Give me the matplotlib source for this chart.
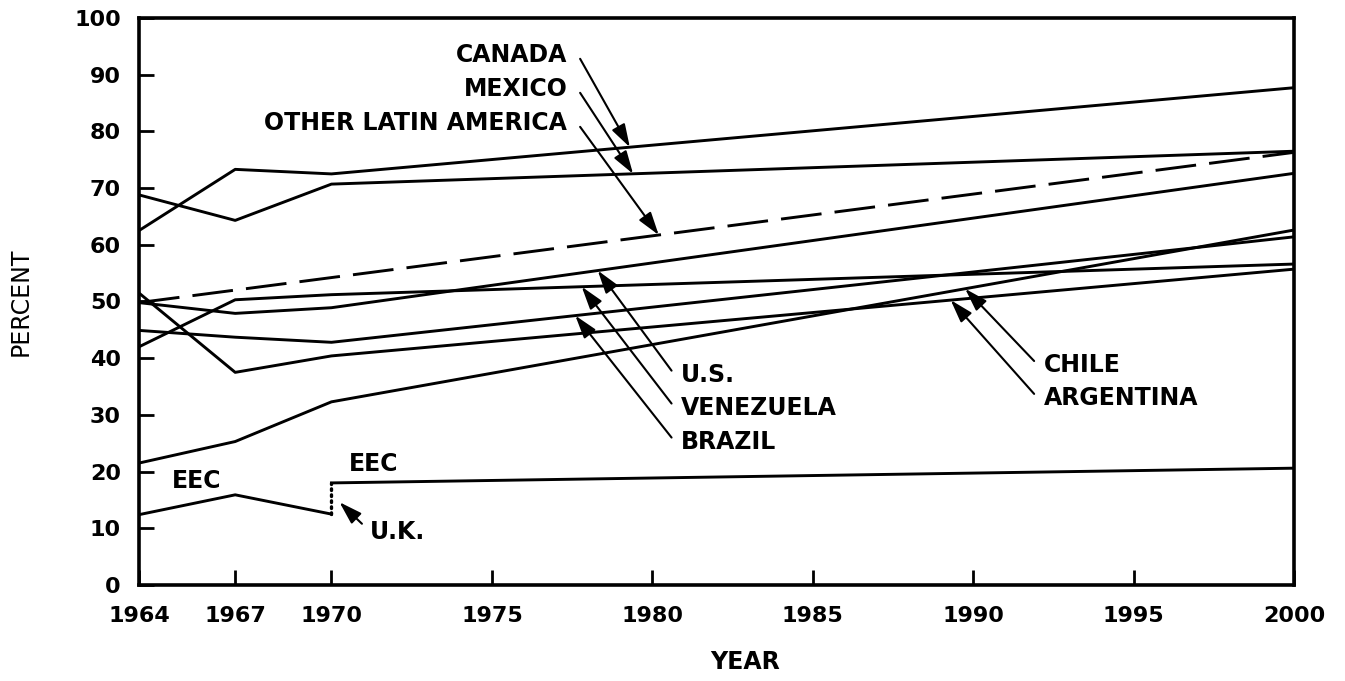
import numpy as np
import matplotlib.pyplot as plt

plt.rcParams['font.family'] = ['DejaVu Sans']

# Données (pourcentages)
years = [1964, 1967, 1970, 2000]
canada = [62.5, 73.3, 72.5, 87.7]
mexico = [68.8, 64.3, 70.7, 76.5]
us = [49.8, 47.9, 48.9, 72.6]
venezuela = [42.0, 50.3, 51.2, 56.6]
brazil = [44.9, 43.7, 42.8, 61.4]
argentina = [51.5, 37.5, 40.4, 55.7]
chile = [21.5, 25.3, 32.3, 62.6]

other_la_years = [1964, 2000]
other_la = [49.8, 76.3]

eec_years = [1964, 1967, 1970]
eec = [12.4, 15.9, 12.5]
eec_uk_years = [1970, 2000]
eec_uk = [18.0, 20.6]

xticks = [1964, 1967, 1970, 1975, 1980, 1985, 1990, 1995, 2000]
yticks = list(range(0, 101, 10))

LW = 2.1
fig = plt.figure(figsize=(13.45, 6.81), dpi=100)
ax = fig.add_axes([0.1033, 0.141, 0.8588, 0.8326])

for serie in [canada, mexico, us, venezuela, brazil, argentina, chile]:
    ax.plot(years, serie, color='black', lw=LW)
ax.plot(other_la_years, other_la, color='black', lw=LW, dashes=(14, 4.5))
ax.plot(eec_years, eec, color='black', lw=LW)
ax.plot(eec_uk_years, eec_uk, color='black', lw=LW)
# entrée du Royaume-Uni (pointillés)
ax.plot([eec_years[-1], eec_uk_years[0]], [eec[-1], eec_uk[0]],
        color='black', lw=2.4, linestyle=(0, (0.5, 1.3)), dash_capstyle='round')

ax.set_xlim(1964, 2000)
ax.set_ylim(0, 100)
ax.set_xticks(xticks)
ax.set_yticks(yticks)
ax.tick_params(direction='in', length=11, width=2, labelsize=16)
ax.tick_params(axis='x', pad=15)
ax.tick_params(axis='y', pad=13)
for lab in ax.get_xticklabels() + ax.get_yticklabels():
    lab.set_fontweight('bold')
for sp in ax.spines.values():
    sp.set_linewidth(2.6)
ax.set_xlabel('YEAR', fontsize=17, fontweight='bold')
ax.set_ylabel('PERCENT', fontsize=17)
ax.xaxis.set_label_coords(0.525, -0.115)
ax.yaxis.set_label_coords(-0.092, 0.5)

ARROW = dict(arrowstyle='-|>,head_length=0.7,head_width=0.22', color='black',
             lw=1.5, mutation_scale=20, shrinkA=0, shrinkB=0)


def fleche(tip_year, serie_years, serie, tail):
    tip = (tip_year, np.interp(tip_year, serie_years, serie))
    ax.annotate('', xy=tip, xytext=tail, arrowprops=ARROW)


FS = 17
FW = 'bold'
# étiquettes du haut
ax.text(1977.35, 93.4, 'CANADA', ha='right', va='center', fontsize=FS, fontweight=FW)
ax.text(1977.35, 87.4, 'MEXICO', ha='right', va='center', fontsize=FS, fontweight=FW)
ax.text(1977.35, 81.4, 'OTHER LATIN AMERICA', ha='right', va='center', fontsize=FS, fontweight=FW)
fleche(1979.3, years, canada, (1977.75, 92.8))
fleche(1979.4, years, mexico, (1977.75, 86.8))
fleche(1980.2, other_la_years, other_la, (1977.75, 80.8))

# étiquettes du milieu
ax.text(1980.9, 37.0, 'U.S.', ha='left', va='center', fontsize=FS, fontweight=FW)
ax.text(1980.9, 31.2, 'VENEZUELA', ha='left', va='center', fontsize=FS, fontweight=FW)
ax.text(1980.9, 25.2, 'BRAZIL', ha='left', va='center', fontsize=FS, fontweight=FW)
fleche(1978.3, years, us, (1980.6, 37.8))
fleche(1977.8, years, venezuela, (1980.6, 32.0))
fleche(1977.6, years, brazil, (1980.6, 26.0))

ax.text(1992.2, 38.8, 'CHILE', ha='left', va='center', fontsize=FS, fontweight=FW)
ax.text(1992.2, 33.0, 'ARGENTINA', ha='left', va='center', fontsize=FS, fontweight=FW)
fleche(1989.75, years, chile, (1991.9, 39.5))
fleche(1989.3, years, argentina, (1991.9, 33.7))

# CEE et Royaume-Uni
ax.text(1965.8, 18.3, 'EEC', ha='center', va='center', fontsize=FS, fontweight=FW)
ax.text(1971.3, 21.3, 'EEC', ha='center', va='center', fontsize=FS, fontweight=FW)
ax.text(1971.2, 9.3, 'U.K.', ha='left', va='center', fontsize=FS, fontweight=FW)
ax.annotate('', xy=(1970.25, 14.6), xytext=(1970.95, 10.8), arrowprops=ARROW)

fig.savefig('out.png', dpi=100)
